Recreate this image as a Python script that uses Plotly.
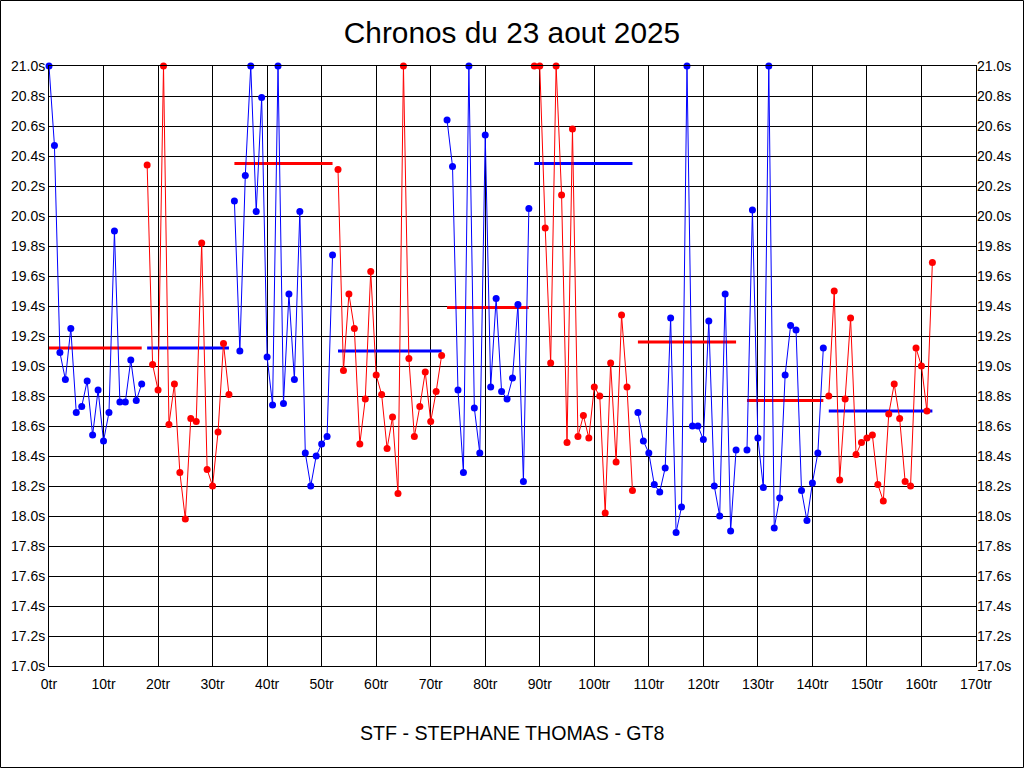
import plotly.graph_objects as go

# ---------------- data ----------------
title_text = "Chronos du 23 aout 2025"
driver_text = "STF - STEPHANE THOMAS - GT8"

x_ticks = list(range(0, 171, 10))

# first lap number of each stint
stint_first_lap = [0, 18, 34, 53, 73, 89, 108, 128, 143]

# lap times (s) of each stint, values above 21.0 are shown capped at 21.0
stint1 = [21.0, 20.47, 19.09, 18.91, 19.25, 18.69, 18.73, 18.90, 18.54, 18.84,
          18.50, 18.69, 19.90, 18.76, 18.76, 19.04, 18.77, 18.88]
stint2 = [20.34, 19.01, 18.84, 21.0, 18.61, 18.88, 18.29, 17.98, 18.65, 18.63,
          19.82, 18.31, 18.20, 18.56, 19.15, 18.81]
stint3 = [20.10, 19.10, 20.27, 21.0, 20.03, 20.79, 19.06, 18.74, 21.0, 18.75,
          19.48, 18.91, 20.03, 18.42, 18.20, 18.40, 18.48, 18.53, 19.74]
stint4 = [20.31, 18.97, 19.48, 19.25, 18.48, 18.78, 19.63, 18.94, 18.81, 18.45,
          18.66, 18.15, 21.0, 19.05, 18.53, 18.73, 18.96, 18.63, 18.83, 19.07]
stint5 = [20.64, 20.33, 18.84, 18.29, 21.0, 18.72, 18.42, 20.54, 18.86, 19.45,
          18.83, 18.78, 18.92, 19.41, 18.23, 20.05]
stint6 = [21.0, 21.0, 19.92, 19.02, 21.0, 20.14, 18.49, 20.58, 18.53, 18.67,
          18.52, 18.86, 18.80, 18.02, 19.02, 18.36, 19.34, 18.86, 18.17]
stint7 = [18.69, 18.50, 18.42, 18.21, 18.16, 18.32, 19.32, 17.89, 18.06, 21.0,
          18.60, 18.60, 18.51, 19.30, 18.20, 18.00, 19.48, 17.90, 18.44]
stint8 = [18.44, 20.04, 18.52, 18.19, 21.0, 17.92, 18.12, 18.94, 19.27, 19.24,
          18.17, 17.97, 18.22, 18.42, 19.12]
stint9 = [18.80, 19.50, 18.24, 18.78, 19.32, 18.41, 18.49, 18.52, 18.54, 18.21,
          18.10, 18.68, 18.88, 18.65, 18.23, 18.20, 19.12, 19.00, 18.70, 19.69]

stint_times = [stint1, stint2, stint3, stint4, stint5, stint6, stint7, stint8, stint9]

# average line of each stint (s)
stint_average = [19.12, 19.12, 20.35, 19.10, 19.39, 20.35, 19.16, 18.77, 18.70]

# ---------------- style ----------------
BLUE = "#0000FF"
RED = "#FF0000"
point_colors = [BLUE, RED, BLUE, RED, BLUE, RED, BLUE, BLUE, RED]
avg_colors = [RED, BLUE, RED, BLUE, RED, BLUE, RED, RED, BLUE]
FONT = "Liberation Sans, Arial, sans-serif"

fig = go.Figure()

# average lines first
for first, times, avg, col in zip(stint_first_lap, stint_times, stint_average, avg_colors):
    laps = list(range(first, first + len(times)))
    fig.add_trace(go.Scatter(
        x=[laps[0], laps[-1]], y=[avg, avg], mode="lines",
        line=dict(color=col, width=3), showlegend=False, hoverinfo="skip",
        cliponaxis=False))

# lap time lines + points
for first, times, col in zip(stint_first_lap, stint_times, point_colors):
    laps = list(range(first, first + len(times)))
    fig.add_trace(go.Scatter(
        x=laps, y=times, mode="lines+markers",
        line=dict(color=col, width=1),
        marker=dict(color=col, size=7, line=dict(width=0)),
        showlegend=False, cliponaxis=False))

# dummy trace for the right-hand axis
fig.add_trace(go.Scatter(x=[None], y=[None], yaxis="y2", showlegend=False, hoverinfo="skip"))

axis_font = dict(family=FONT, size=14, color="black")

L, R, T, B = 49, 48, 66, 102
W, H = 1024, 768
pw = W - L - R
ph = H - T - B

fig.update_layout(
    width=W, height=H,
    margin=dict(l=L, r=R, t=T, b=B, pad=0, autoexpand=False),
    paper_bgcolor="white", plot_bgcolor="white",
    title=dict(text=title_text, x=0.5, xanchor="center", y=1 - 33 / H, yanchor="middle",
               yref="container", font=dict(family=FONT, size=29.8, color="black")),
    xaxis=dict(range=[0, 170], tickvals=x_ticks, ticktext=[f"{v}tr" for v in x_ticks],
               showgrid=True, gridcolor="black", gridwidth=1,
               showline=True, linecolor="black", linewidth=1, mirror=True,
               zeroline=False, ticks="", tickfont=axis_font, fixedrange=True,
               automargin=False, ticklabelstandoff=5),
    yaxis=dict(range=[17, 21], dtick=0.2, tick0=17, tickformat=".1f", ticksuffix="s",
               showgrid=True, gridcolor="black", gridwidth=1,
               showline=True, linecolor="black", linewidth=1, mirror=True,
               zeroline=False, ticks="", tickfont=axis_font, fixedrange=True,
               automargin=False),
    yaxis2=dict(range=[17, 21], dtick=0.2, tick0=17, tickformat=".1f", ticksuffix="s",
                overlaying="y", side="right", showgrid=False, zeroline=False,
                showline=False, ticks="", tickfont=axis_font, fixedrange=True,
                automargin=False),
    annotations=[dict(text=driver_text, xref="paper", yref="paper",
                      x=(512 - L) / pw, y=(T + ph - 733) / ph,
                      xanchor="center", yanchor="middle", showarrow=False,
                      font=dict(family=FONT, size=19.6, color="black"))],
    shapes=[dict(type="rect", xref="paper", yref="paper",
                 x0=(0.5 - L) / pw, x1=(W - 0.5 - L) / pw,
                 y0=(T + ph - (H - 0.5)) / ph, y1=(T + ph - 0.5) / ph,
                 line=dict(color="black", width=1), layer="above")],
)

fig.write_html("out.html", config={"displayModeBar": False},
               post_script="document.body.style.margin='0px';")
